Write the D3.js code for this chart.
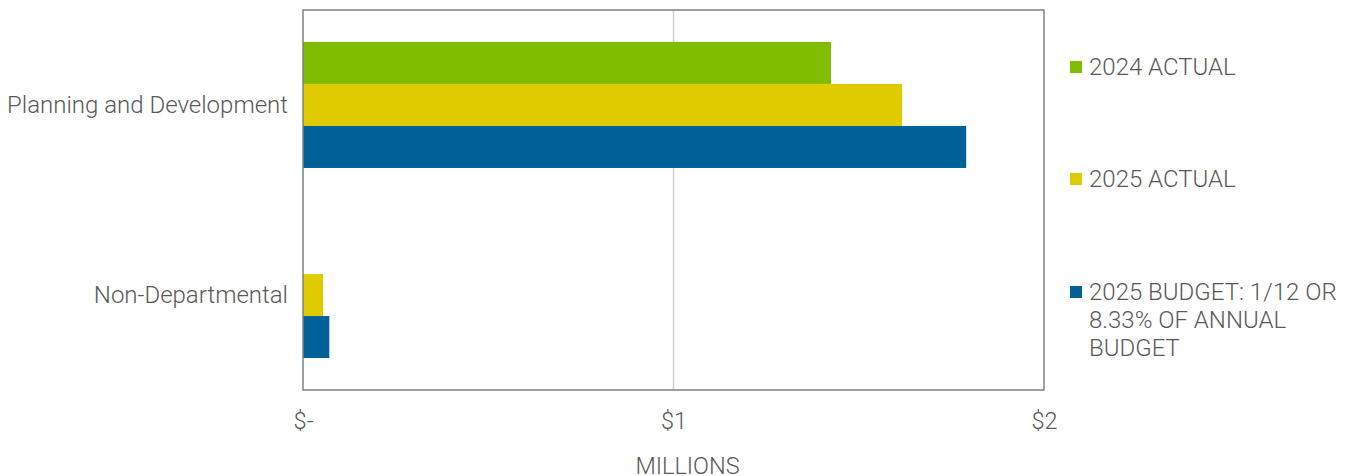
<!DOCTYPE html>
<html><head><meta charset="utf-8">
<script src="https://cdn.jsdelivr.net/npm/d3@7"></script>
<style>body{margin:0;background:#fff}svg{display:block}text{font-family:Roboto,sans-serif}</style>
</head><body><svg id="c" width="1350" height="476"></svg>
<script>
const categories = ["Planning and Development", "Non-Departmental"];
const seriesNames = ["2024 ACTUAL", "2025 ACTUAL", "2025 BUDGET: 1/12 OR 8.33% OF ANNUAL BUDGET"];
const actual2024 = [1.425, 0];
const actual2025 = [1.617, 0.054];
const budget2025 = [1.79, 0.071];
const tickValues = [0, 1, 2];
const tickLabels = ["$-", "$1", "$2"];
const colors = ["#80bc00", "#e0cb00", "#006098"];
const legendLines = [["2024 ACTUAL"], ["2025 ACTUAL"], ["2025 BUDGET: 1/12 OR", "8.33% OF ANNUAL", "BUDGET"]];

const svg = d3.select("#c");
const L = 303, R = 1044, T = 10, B = 390;
const FS = 24, FW = 300, FC = "#595959";
const x = d3.scaleLinear().domain([0, 2]).range([L, R]);
const y = d3.scaleBand().domain(categories).range([T, B]).paddingInner(0.337).paddingOuter(0.168);
const ySub = d3.scaleBand().domain(d3.range(3)).range([0, y.bandwidth()]);
const series = [actual2024, actual2025, budget2025];

// gridline
svg.append("line").attr("x1", x(1)).attr("x2", x(1)).attr("y1", T).attr("y2", B)
  .attr("stroke", "#d0d0d0").attr("stroke-width", 1.5);

// bars
series.forEach((vals, si) => {
  svg.append("g").selectAll("rect").data(vals.map((v, i) => ({v, c: categories[i]})))
    .join("rect")
    .attr("x", x(0))
    .attr("y", d => y(d.c) + ySub(si))
    .attr("width", d => x(d.v) - x(0))
    .attr("height", ySub.bandwidth())
    .attr("fill", colors[si]);
});

// frame
svg.append("rect").attr("x", L).attr("y", T).attr("width", R - L).attr("height", B - T)
  .attr("fill", "none").attr("stroke", "#808080").attr("stroke-width", 1.5);

// x axis
const xa = svg.append("g").attr("transform", `translate(0,${B})`)
  .call(d3.axisBottom(x).tickValues(tickValues).tickFormat((d, i) => tickLabels[i]).tickSize(0));
xa.select(".domain").remove();
xa.selectAll("text").attr("y", 31).attr("dy", "0.35em").attr("font-size", 23.5).attr("font-weight", FW).attr("fill", FC)
  .attr("font-family", "Roboto, sans-serif");

// y axis labels
const ya = svg.append("g").attr("transform", `translate(${L},0)`)
  .call(d3.axisLeft(y).tickSize(0).tickPadding(15));
ya.select(".domain").remove();
ya.selectAll("text").attr("font-size", FS).attr("font-weight", FW).attr("fill", FC)
  .attr("font-family", "Roboto, sans-serif");

// axis title
svg.append("text").attr("x", x(1) + 14).attr("y", 465.5).attr("dy", "0.35em").attr("text-anchor", "middle")
  .attr("font-size", 23.5).attr("font-weight", FW).attr("fill", FC).text("MILLIONS");

// legend
const legendY = [67, 179, 292];
legendLines.forEach((lines, i) => {
  svg.append("rect").attr("x", 1070).attr("y", legendY[i] - 6).attr("width", 12).attr("height", 12).attr("fill", colors[i]);
  const t = svg.append("text").attr("x", 1089).attr("y", legendY[i])
    .attr("font-size", FS).attr("font-weight", FW).attr("fill", FC);
  lines.forEach((ln, j) => t.append("tspan").attr("x", 1089).attr("dy", j === 0 ? "0.35em" : 28).text(ln));
});
</script></body></html>
